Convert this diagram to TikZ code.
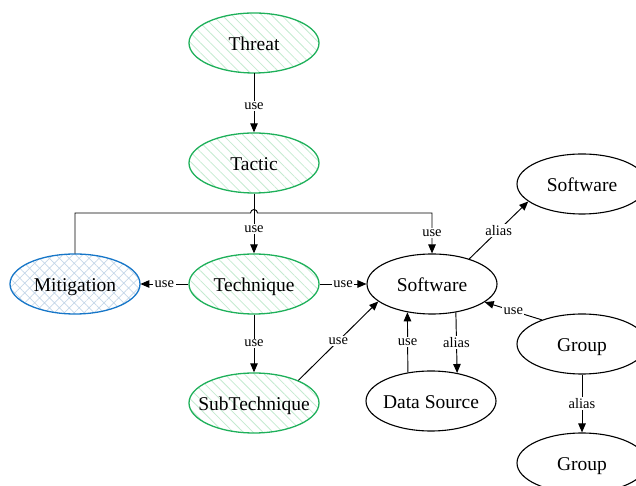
\documentclass[tikz,border=0pt]{standalone}
\usepackage{fontspec}
\setmainfont{Liberation Serif}
\usetikzlibrary{shapes.geometric,patterns.meta,arrows.meta}
\definecolor{gstroke}{RGB}{30,176,90}
\definecolor{gfill}{RGB}{196,234,208}
\definecolor{bstroke}{RGB}{22,118,200}
\definecolor{bfill}{RGB}{196,214,232}
\newcommand{\ctext}[1]{\makebox[0pt]{\raisebox{0pt}[15pt][0pt]{#1}}}
\tikzset{
  ell/.style={shape=ellipse, draw=black, line width=1.1pt, minimum width=130pt, minimum height=60pt, inner sep=0pt,
    font=\fontsize{19.5}{21}\selectfont},
  greenell/.style={ell, draw=gstroke, line width=1.3pt, pattern={Lines[angle=-45,distance=7pt,line width=0.8pt]}, pattern color=gfill},
  blueell/.style={ell, draw=bstroke, line width=1.3pt, pattern={Hatch[angle=45,distance=7pt,line width=0.7pt]}, pattern color=bfill},
  edge/.style={draw=black, line width=0.95pt, -{Triangle[length=9pt,width=7.5pt]}},
  lbl/.style={fill=white, inner sep=1.5pt, font=\fontsize{14.5}{15}\selectfont}
}
\begin{document}
\begin{tikzpicture}[x=1pt,y=1pt]
\useasboundingbox (0,0) rectangle (636,486);
\clip (0,0) rectangle (636,486);
\node[greenell] (threat) at (254,443) {\ctext{Threat}};
\node[greenell] (tactic) at (254,323) {\ctext{Tactic}};
\node[greenell] (tech) at (254,202) {\ctext{Technique}};
\node[blueell] (mit) at (75,202) {\ctext{Mitigation}};
\node[greenell] (sub) at (254,83) {\ctext{SubTechnique}};
\node[ell] (sw) at (432,202) {\ctext{Software}};
\node[ell] (sw2) at (582,302) {\ctext{Software}};
\node[ell] (grp) at (582,142) {\ctext{Group}};
\node[ell] (grp2) at (582,23) {\ctext{Group}};
\node[ell] (ds) at (431,85) {\ctext{Data Source}};

\coordinate (hopL) at (250.5,273);
\draw[edge] (mit.north) |- (hopL) arc[start angle=180,end angle=0,radius=3.5]
  -- (sw.north |- hopL) -- node[lbl]{use} (sw.north);

\draw[edge] (threat) -- node[lbl,pos=0.55]{use} (tactic);
\draw[edge] (tactic) -- node[lbl,pos=0.6]{use} (tech);
\draw[edge] (tech) -- node[lbl]{use} (mit);
\draw[edge] (tech) -- node[lbl]{use} (sw);
\draw[edge] (tech) -- node[lbl]{use} (sub);
\draw[edge] (sub.27) -- node[lbl]{use} (sw.198);
\draw[edge] (sw.34) -- node[lbl]{alias} (sw2.198);
\draw[edge] (grp.149) -- node[lbl]{use} (sw.341);
\draw[edge] (ds.129.4) -- node[lbl]{use} (sw.229.3);
\draw[edge] (sw.310.7) -- node[lbl]{alias} (ds.47.9);
\draw[edge] (grp) -- node[lbl]{alias} (grp2);
\end{tikzpicture}
\end{document}
